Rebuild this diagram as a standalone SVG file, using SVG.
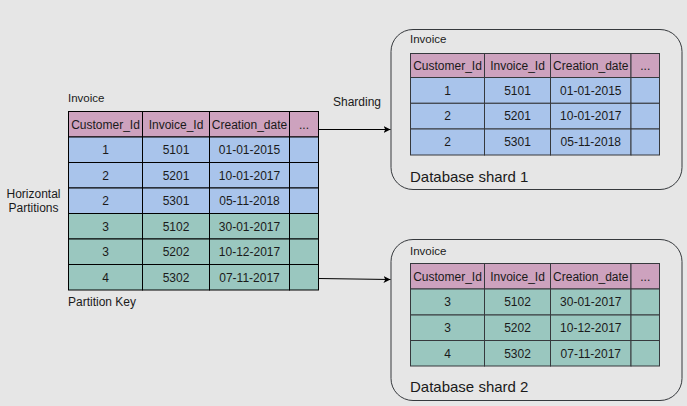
<svg xmlns="http://www.w3.org/2000/svg" width="687" height="406" viewBox="0 0 687 406">
<style>
text{font-family:"Liberation Sans",Arial,sans-serif;font-size:12px;fill:#1a1a1a}
.c{text-anchor:middle}
.h{fill:#CDA2BE}
.b{fill:#A9C4EB}
.g{fill:#9AC7BF}
.t rect{stroke:#000;stroke-width:1}
.s rect{stroke:#36393d;stroke-width:1}
.box{fill:none;stroke:#1a1a1a;stroke-width:1}
.conn{stroke:#000;stroke-width:1;fill:none}
</style>
<defs>
<marker id="ar" markerWidth="8" markerHeight="8" refX="7" refY="4" orient="auto" markerUnits="userSpaceOnUse">
<path d="M0,0.5 L7,4 L0,7.5 L1.8,4 Z" fill="#000"/>
</marker>
</defs>
<rect x="0" y="0" width="687" height="406" fill="#e6e6e6"/>

<g id="labels">
<text x="68" y="101.5" style="font-size:11.5px">Invoice</text>
<text x="33.5" y="197.5" class="c">Horizontal</text>
<text x="33.5" y="212" class="c">Partitions</text>
<text x="68" y="306">Partition Key</text>
</g>

<g id="main-table" class="t">
<rect class="h" x="68.5" y="111.5" width="74" height="25.5"/>
<rect class="h" x="142.5" y="111.5" width="67" height="25.5"/>
<rect class="h" x="209.5" y="111.5" width="80" height="25.5"/>
<rect class="h" x="289.5" y="111.5" width="29" height="25.5"/>
<text x="105.5" y="128.5" class="c">Customer_Id</text>
<text x="176" y="128.5" class="c">Invoice_Id</text>
<text x="249.5" y="128.5" class="c">Creation_date</text>
<text x="304" y="128.5" class="c">...</text>

<rect class="b" x="68.5" y="137" width="74" height="25.5"/>
<rect class="b" x="142.5" y="137" width="67" height="25.5"/>
<rect class="b" x="209.5" y="137" width="80" height="25.5"/>
<rect class="b" x="289.5" y="137" width="29" height="25.5"/>
<text x="105.5" y="154" class="c">1</text>
<text x="176" y="154" class="c">5101</text>
<text x="249.5" y="154" class="c">01-01-2015</text>

<rect class="b" x="68.5" y="162.5" width="74" height="25.5"/>
<rect class="b" x="142.5" y="162.5" width="67" height="25.5"/>
<rect class="b" x="209.5" y="162.5" width="80" height="25.5"/>
<rect class="b" x="289.5" y="162.5" width="29" height="25.5"/>
<text x="105.5" y="179.5" class="c">2</text>
<text x="176" y="179.5" class="c">5201</text>
<text x="249.5" y="179.5" class="c">10-01-2017</text>

<rect class="b" x="68.5" y="188" width="74" height="25.5"/>
<rect class="b" x="142.5" y="188" width="67" height="25.5"/>
<rect class="b" x="209.5" y="188" width="80" height="25.5"/>
<rect class="b" x="289.5" y="188" width="29" height="25.5"/>
<text x="105.5" y="205" class="c">2</text>
<text x="176" y="205" class="c">5301</text>
<text x="249.5" y="205" class="c">05-11-2018</text>

<rect class="g" x="68.5" y="213.5" width="74" height="25.5"/>
<rect class="g" x="142.5" y="213.5" width="67" height="25.5"/>
<rect class="g" x="209.5" y="213.5" width="80" height="25.5"/>
<rect class="g" x="289.5" y="213.5" width="29" height="25.5"/>
<text x="105.5" y="230.5" class="c">3</text>
<text x="176" y="230.5" class="c">5102</text>
<text x="249.5" y="230.5" class="c">30-01-2017</text>

<rect class="g" x="68.5" y="239" width="74" height="25.5"/>
<rect class="g" x="142.5" y="239" width="67" height="25.5"/>
<rect class="g" x="209.5" y="239" width="80" height="25.5"/>
<rect class="g" x="289.5" y="239" width="29" height="25.5"/>
<text x="105.5" y="256" class="c">3</text>
<text x="176" y="256" class="c">5202</text>
<text x="249.5" y="256" class="c">10-12-2017</text>

<rect class="g" x="68.5" y="264.5" width="74" height="25.5"/>
<rect class="g" x="142.5" y="264.5" width="67" height="25.5"/>
<rect class="g" x="209.5" y="264.5" width="80" height="25.5"/>
<rect class="g" x="289.5" y="264.5" width="29" height="25.5"/>
<text x="105.5" y="281.5" class="c">4</text>
<text x="176" y="281.5" class="c">5302</text>
<text x="249.5" y="281.5" class="c">07-11-2017</text>
</g>

<g id="shard1" class="s">
<rect class="box" x="391" y="29.5" width="291" height="160" rx="22" ry="22"/>
<text x="410" y="43" style="font-size:11.5px">Invoice</text>
<rect class="h" x="410.5" y="53.5" width="74" height="24"/>
<rect class="h" x="484.5" y="53.5" width="66" height="24"/>
<rect class="h" x="550.5" y="53.5" width="80.5" height="24"/>
<rect class="h" x="631" y="53.5" width="28.5" height="24"/>
<text x="447.5" y="69.5" class="c">Customer_Id</text>
<text x="517.5" y="69.5" class="c">Invoice_Id</text>
<text x="590.8" y="69.5" class="c">Creation_date</text>
<text x="645.3" y="69.5" class="c">...</text>

<rect class="b" x="410.5" y="77.5" width="74" height="25.8"/>
<rect class="b" x="484.5" y="77.5" width="66" height="25.8"/>
<rect class="b" x="550.5" y="77.5" width="80.5" height="25.8"/>
<rect class="b" x="631" y="77.5" width="28.5" height="25.8"/>
<text x="447.5" y="94.5" class="c">1</text>
<text x="517.5" y="94.5" class="c">5101</text>
<text x="590.8" y="94.5" class="c">01-01-2015</text>

<rect class="b" x="410.5" y="103.3" width="74" height="25.7"/>
<rect class="b" x="484.5" y="103.3" width="66" height="25.7"/>
<rect class="b" x="550.5" y="103.3" width="80.5" height="25.7"/>
<rect class="b" x="631" y="103.3" width="28.5" height="25.7"/>
<text x="447.5" y="120.3" class="c">2</text>
<text x="517.5" y="120.3" class="c">5201</text>
<text x="590.8" y="120.3" class="c">10-01-2017</text>

<rect class="b" x="410.5" y="129" width="74" height="26"/>
<rect class="b" x="484.5" y="129" width="66" height="26"/>
<rect class="b" x="550.5" y="129" width="80.5" height="26"/>
<rect class="b" x="631" y="129" width="28.5" height="26"/>
<text x="447.5" y="146" class="c">2</text>
<text x="517.5" y="146" class="c">5301</text>
<text x="590.8" y="146" class="c">05-11-2018</text>
<text x="410" y="182" style="font-size:15px">Database shard 1</text>
</g>

<g id="shard2" class="s">
<rect class="box" x="391" y="239.5" width="291" height="161" rx="22" ry="22"/>
<text x="410" y="254.5" style="font-size:11.5px">Invoice</text>
<rect class="h" x="410.5" y="263.5" width="74" height="25.5"/>
<rect class="h" x="484.5" y="263.5" width="66" height="25.5"/>
<rect class="h" x="550.5" y="263.5" width="80.5" height="25.5"/>
<rect class="h" x="631" y="263.5" width="28.5" height="25.5"/>
<text x="447.5" y="280.5" class="c">Customer_Id</text>
<text x="517.5" y="280.5" class="c">Invoice_Id</text>
<text x="590.8" y="280.5" class="c">Creation_date</text>
<text x="645.3" y="280.5" class="c">...</text>

<rect class="g" x="410.5" y="289" width="74" height="26"/>
<rect class="g" x="484.5" y="289" width="66" height="26"/>
<rect class="g" x="550.5" y="289" width="80.5" height="26"/>
<rect class="g" x="631" y="289" width="28.5" height="26"/>
<text x="447.5" y="306" class="c">3</text>
<text x="517.5" y="306" class="c">5102</text>
<text x="590.8" y="306" class="c">30-01-2017</text>

<rect class="g" x="410.5" y="315" width="74" height="25.5"/>
<rect class="g" x="484.5" y="315" width="66" height="25.5"/>
<rect class="g" x="550.5" y="315" width="80.5" height="25.5"/>
<rect class="g" x="631" y="315" width="28.5" height="25.5"/>
<text x="447.5" y="332" class="c">3</text>
<text x="517.5" y="332" class="c">5202</text>
<text x="590.8" y="332" class="c">10-12-2017</text>

<rect class="g" x="410.5" y="340.5" width="74" height="25.5"/>
<rect class="g" x="484.5" y="340.5" width="66" height="25.5"/>
<rect class="g" x="550.5" y="340.5" width="80.5" height="25.5"/>
<rect class="g" x="631" y="340.5" width="28.5" height="25.5"/>
<text x="447.5" y="357.5" class="c">4</text>
<text x="517.5" y="357.5" class="c">5302</text>
<text x="590.8" y="357.5" class="c">07-11-2017</text>
<text x="410" y="392" style="font-size:15px">Database shard 2</text>
</g>

<g id="connectors">
<line class="conn" x1="318.5" y1="129.5" x2="390.5" y2="129.5" marker-end="url(#ar)"/>
<line class="conn" x1="318.5" y1="278.5" x2="390.5" y2="279.5" marker-end="url(#ar)"/>
<text x="357" y="106" class="c">Sharding</text>
</g>
</svg>
